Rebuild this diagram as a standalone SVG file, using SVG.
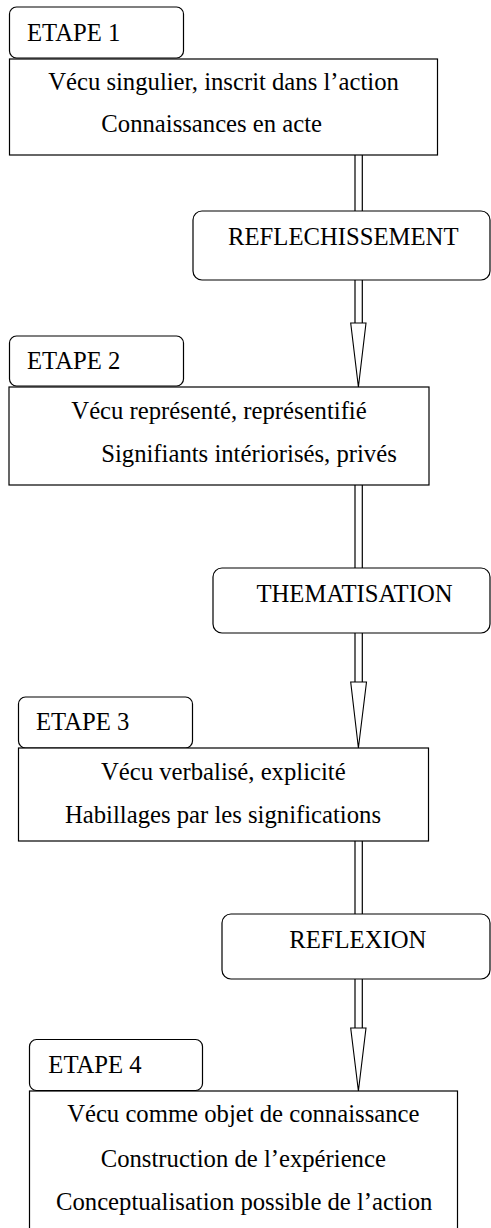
<svg xmlns="http://www.w3.org/2000/svg" width="491" height="1228" viewBox="0 0 491 1228">
<style>
.box{fill:#fff;stroke:#000;stroke-width:1.2}
.ln{stroke:#000;stroke-width:1.2;fill:none}
.head{fill:#fff;stroke:#000;stroke-width:1.1;stroke-linejoin:miter}
text{font-family:"Liberation Serif","Times New Roman",serif;font-size:24.7px;fill:#000}
.c{text-anchor:middle}
</style>
<rect width="491" height="1228" fill="#fff"/>
<g id="connectors">
  <path class="ln" d="M355,155V211M362.3,155V211M355,280V323M362.3,280V323"/>
  <polygon class="head" points="350.7,323 366,323 358.4,387"/>
  <path class="ln" d="M355,485V568M362.3,485V568M355,633V682M362.3,633V682"/>
  <polygon class="head" points="350.7,682 366.5,682 358.4,748"/>
  <path class="ln" d="M355,841V914M362.3,841V914M355,979V1028M362.3,979V1028"/>
  <polygon class="head" points="350.7,1028 366,1028 358.4,1091"/>
</g>
<g id="etape1">
  <rect class="box" x="9.5" y="7" width="174" height="51" rx="7"/>
  <text x="27" y="40.5">ETAPE 1</text>
</g>
<g id="stage1">
  <rect class="box" x="9.5" y="59" width="428" height="96"/>
  <text class="c" x="223.5" y="90">Vécu singulier, inscrit dans l’action</text>
  <text class="c" x="211.7" y="132">Connaissances en acte</text>
</g>
<g id="reflechissement">
  <rect class="box" x="193" y="211" width="297" height="69" rx="9"/>
  <text class="c" x="343.3" y="245">REFLECHISSEMENT</text>
</g>
<g id="etape2">
  <rect class="box" x="9.5" y="336" width="174" height="50" rx="7"/>
  <text x="27" y="369">ETAPE 2</text>
</g>
<g id="stage2">
  <rect class="box" x="9" y="387" width="420" height="98"/>
  <text class="c" x="219" y="419">Vécu représenté, représentifié</text>
  <text class="c" x="249" y="461.5">Signifiants intériorisés, privés</text>
</g>
<g id="thematisation">
  <rect class="box" x="213" y="568" width="277" height="65" rx="9"/>
  <text class="c" x="354.5" y="601.5">THEMATISATION</text>
</g>
<g id="etape3">
  <rect class="box" x="18.5" y="697" width="174" height="51" rx="7"/>
  <text x="36" y="730">ETAPE 3</text>
</g>
<g id="stage3">
  <rect class="box" x="18.5" y="748" width="410" height="93"/>
  <text class="c" x="223.3" y="780">Vécu verbalisé, explicité</text>
  <text class="c" x="223" y="823">Habillages par les significations</text>
</g>
<g id="reflexion">
  <rect class="box" x="222" y="914" width="268" height="65" rx="9"/>
  <text class="c" x="357.8" y="948.3">REFLEXION</text>
</g>
<g id="etape4">
  <rect class="box" x="29.5" y="1039.5" width="173" height="51" rx="7"/>
  <text x="48.3" y="1072.5">ETAPE 4</text>
</g>
<g id="stage4">
  <rect class="box" x="29.5" y="1091" width="428" height="150"/>
  <text class="c" x="243.3" y="1121.7">Vécu comme objet de connaissance</text>
  <text class="c" x="243.3" y="1166.7">Construction de l’expérience</text>
  <text class="c" x="244.2" y="1210">Conceptualisation possible de l’action</text>
</g>
</svg>
